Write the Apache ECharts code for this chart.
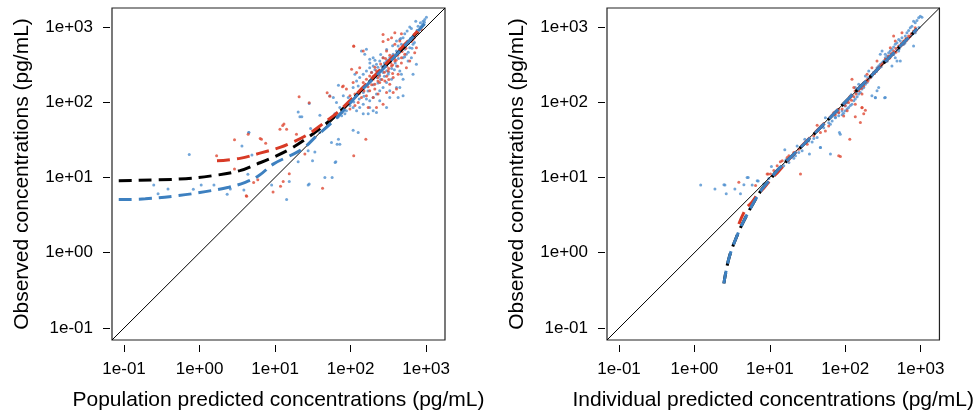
<!DOCTYPE html>
<html><head><meta charset="utf-8">
<script src="https://cdn.jsdelivr.net/npm/echarts@6/dist/echarts.min.js"></script>
<style>html,body{margin:0;padding:0;background:#fff}#c{width:977px;height:416px}</style>
</head><body><div id="c"></div>
<script>
// ---- tick labels / axis ----
const tickValues = [0.1, 1, 10, 100, 1000];
const tickLabels = ['1e-01', '1e+00', '1e+01', '1e+02', '1e+03'];
const axisRange = [0.0692, 1778];
const identityValues = [0.0692, 1778];

const xTitles = ['Population predicted concentrations (pg/mL)', 'Individual predicted concentrations (pg/mL)'];
const yTitle = 'Observed concentrations (pg/mL)';

// ---- left panel: PRED vs OBS ----
const leftBlue = [
[28.3,96],[4.5,39.5],[20.2,74],[22.6,64],[39.2,66.7],[29.5,44.6],[39.2,39.5],[55.8,29.1],[69,32.1],[66.3,27.6],
[27.4,22.5],[33.6,21.8],[31.3,16.6],[20.2,16.1],[63.7,16.1],[45.6,10],[56.9,10],[14.2,5.07],[27.4,7.94],[9.0,7.94],
[15.4,8.8],[108,42.4],[126,39.5],[0.73,20.2],[0.247,7.94],[0.282,6.04],[0.382,7.03],[0.718,9.7],[0.826,6.97],[1.05,7.94],
[1.55,7.94],[2.32,5.98],[2.55,7.03],[3.64,26.2],[4.47,39.5],[4.93,19.8],[4.36,11],[3.86,6.82],[21.3,64],[69,168],
[62.4,15.8],[28.3,8.2],[72,27.6],
[1009,1343],[959,1250],[912,1189],[840,1130],[782,1021],[729,1189],[638,951],[607,991],[560,877],[521,809],
[495,716],[448,681],[405,647],[426,556],[471,585],[521,502],[607,528],[671,585],[548,432],[495,389],
[577,352],[405,478],[366,432],[330,389],[299,352],[284,318],[269,389],[243,352],[220,318],[199,302],
[179,287],[162,259],[147,234],[132,212],[120,191],[114,234],[139,478],[154,432],[162,502],[179,370],
[199,389],[405,302],[448,259],[471,234],[495,201],[405,156],[330,141],[299,182],[269,156],[243,141],
[220,128],[199,115],[179,104],[162,110],[147,94],[132,85],[120,77],[108,85],[98,90],[88,77],
[84,70],[76,66],[68,63],[62,70],[72,85],[65,99],[59,115],[53,121],[80,121],[93,115],
[98,104],[147,134],[139,149],[126,164],[108,156],[220,212],[243,223],[269,247],[314,234],[348,201],
[671,234],[743,318],[638,389],[179,85],[199,77],[243,104],[330,115],[448,156],[426,115],[495,121],
[299,85],[220,73],[171,70],[147,70],
[190,250],[210,270],[230,290],[260,300],[280,330],[310,360],[350,400],[380,420],[420,460],[460,500],
[500,540],[540,600],[580,650],[620,700],[700,780],[760,900],[850,1000],[900,1080],[950,1150],[350,280],
[390,330],[430,380],[300,260],[250,200],[200,170],[170,140],[150,120],[130,110],[110,100],[230,180],
[280,220],[320,250],[380,270],[520,400],[580,460],[650,520],[700,620],[460,700],[360,560],[300,500],
[250,430],[210,360],[180,330]
];
const leftRed = [
[20.8,118],[48.9,133],[53,120],[13.1,51],[11.6,43.5],[19.2,37.4],[6.6,32.1],[15.4,11.2],[12.8,8.8],[11.8,7.6],
[9.4,6.4],[4.2,5.6],[42.5,7.2],[24.8,20.4],[110,19.4],[159,32.1],[2.9,31.5],[1.68,19.4],[6.35,32.9],[2.9,12.9],
[4.15,5.7],[5.2,8.55],[5.9,9.3],[4.4,37.4],[7.5,28.4],[12.6,49],[14.2,43.5],[28.3,98],[78,160],[110,550],[269,640],
[110,556],[147,478],[269,793],[314,681],[348,716],[385,834],[471,809],[521,585],[448,502],[405,432],
[385,352],[348,302],[314,259],[269,287],[243,259],[220,234],[231,212],[199,201],[189,247],[179,223],
[162,201],[147,182],[209,173],[243,182],[284,191],[330,173],[366,212],[426,234],[132,287],[120,247],
[103,273],[108,182],[80,164],[88,149],[147,149],[179,141],[209,149],[162,121],[139,115],[126,99],
[114,90],[98,81],[84,85],[76,73],[65,66],[98,121],[114,128],[199,115],[231,128],[269,94],
[299,134],[366,134],[405,149],[220,85],[171,85],[548,287],[607,352],[706,454],[743,528],[671,681],
[471,389],[521,432],[299,478],[269,389],[385,585],[448,647],[782,834],[865,922],
[200,220],[220,260],[240,230],[260,270],[280,250],[300,300],[320,280],[340,330],[360,310],[380,380],
[400,360],[420,420],[440,450],[480,470],[500,560],[540,520],[580,600],[640,640],[700,720],[300,220],
[260,200],[230,190],[190,170],[170,160],[150,140],[130,130],[330,420],[290,380],[250,320],[210,290],
[420,300],[470,330],[360,240],[320,200]
];
const leftCurveBlack = [[0.085,9.04],[0.53,9.5],[1.46,10.5],[3.42,12.3],[5.69,15.0],[9.44,18.5],[15.7,23.7],[26.1,32.9],[39.2,44.6],[58.7,62],[97.5,100],[162,170],[283,300],[448,480],[774,860]];
const leftCurveRed = [[1.70,16.6],[3.42,17.9],[6.3,21.0],[11.6,25.0],[17.3,29.6],[26.1,36.3],[39.2,48.2],[72,78],[162,175],[283,310],[448,500],[774,880]];
const leftCurveBlue = [[0.085,5.07],[0.191,5.19],[0.53,5.73],[1.19,6.47],[2.43,7.4],[4.03,8.6],[6.05,10.5],[9.44,15.0],[15.7,19.4],[23.5,24.2],[35.4,35.6],[53,50.7],[79.6,76],[132,135],[283,290],[521,560],[957,1100]];

// ---- right panel: IPRED vs OBS ----
const rightBlue = [
[942,1315],[894,1213],[849,1130],[807,1189],[991,1384],[1042,1343],[767,1021],[729,970],[693,895],[659,834],
[767,793],[849,834],[627,753],[566,716],[538,647],[512,681],[486,615],[461,585],[439,538],[417,502],
[396,478],[377,454],[358,409],[340,389],[324,352],[308,334],[292,318],[278,302],[264,287],[251,259],
[238,247],[226,223],[215,212],[205,201],[195,182],[185,173],[176,156],[167,149],[159,134],[151,128],
[144,118],[136,110],[130,104],[123,94],[117,90],[111,85],[106,81],[100,77],[95,71],[91,68],
[82,66],[74,63],[292,432],[308,478],[340,432],[417,302],[461,389],[486,352],[512,478],[278,156],
[251,115],[340,115],[226,121],[264,141],[185,223],[205,259],[151,173],[136,156],[538,352],[596,585],[807,556],
[1.21,7.94],[1.87,7.03],[2.54,7.94],[3.44,7.03],[2.64,6.04],[4.08,6.04],[5.16,9.93],[5.83,7.94],[7.01,8.97],[10.5,14.0],
[15.8,23.2],[16.4,17.1],[21.9,19.4],[23.0,26.2],[29.1,32.1],[33.5,20.4],[36.4,29.6],[46.9,24.9],[54.6,62.2],[63.6,50.7],
[83.8,39.4],[100,88.7],[82,72.4],[67,56.2],[42.4,33.8],[26.8,22.5],[24.2,21.4],[20.8,17.9],[17.9,15.8],[15.3,14.3],
[13.2,12.6],[11.3,11.1],[9.7,9.7],[8.3,8.2],[38.3,32.8],[32.9,30.5],[51.9,45.8],[60.4,53.3],[74.1,62.2],[90.8,76.2],[106,98],
[86,37.4],[251,114],[333,114],[63.7,20.4],[46.9,25],[2.46,8.0],[4.53,8.0],[5.0,10.0],[6.8,9.04],
[120,125],[140,135],[160,168],[180,178],[200,210],[220,215],[240,250],[260,255],[280,290],[300,295],
[330,345],[360,350],[400,410],[440,430],[480,500],[520,510],[560,580],[620,610],[680,700],[740,760],
[800,820],[870,900],[950,980]
];
const rightRed = [
[849,970],[807,877],[752,809],[693,753],[640,701],[596,647],[555,596],[512,556],[471,518],[439,478],
[408,440],[377,409],[340,370],[324,334],[301,312],[278,287],[251,255],[231,234],[215,212],[200,191],
[185,182],[176,164],[164,153],[151,141],[139,128],[130,118],[121,106],[111,99],[100,90],[91,81],
[82,73],[74,68],[123,201],[130,156],[167,85],[176,70],[106,77],[461,647],[396,528],[264,352],
[226,287],[195,234],[167,128],[136,94],[439,753],[566,834],
[3.88,8.6],[9.2,11.1],[13.8,16.1],[17.9,19.4],[25.5,11.1],[42.4,49.2],[86.3,19.0],[54.6,41.4],[38.3,35.6],[31.3,27.6],
[24.2,23.7],[20.8,21.4],[17.0,18.4],[14.6,16.6],[12.5,14.3],[11.3,12.3],[10.2,11.1],[70.5,72.4],[82,80.2],[95.5,65.5],
[60.4,48.2],[46.9,39.4],[82,19.4],[115,32.1],[159,53.5],[136,64],[167,84],[185,78],[6.47,7.78],[9.5,11.1],
[115,118],[135,140],[155,150],[175,180],[195,198],[215,222],[245,240],[270,280],[310,320],[350,360],
[390,385],[430,445],[470,460],[520,540],[580,590],[650,665],[720,740]
];
const rightCurveBlack = [[2.46,0.391],[2.86,0.836],[3.69,1.70],[4.67,2.82],[6.14,4.69],[7.91,7.03],[10.2,9.53],[12.5,12.3],[20,19.6],[50,49],[100,100],[300,305],[900,940]];
const rightCurveBlue = [[2.46,0.391],[2.86,0.836],[3.69,1.70],[4.67,2.82],[6.14,4.69],[7.91,7.03],[10.2,9.53],[12.5,12.3],[20,19.6],[50,49],[100,100],[300,305],[900,940]];
const rightCurveRed = [[3.88,2.4],[4.81,3.83],[5.83,4.73],[6.79,5.85],[8.34,7.24],[10.2,9.25],[13.2,12.2],[20,19.5],[50,49.5],[100,99],[300,305],[900,930]];

// ---- styles ----
const FONT = 'Liberation Sans, Arial, sans-serif';
const C_BLUE_PT = '#4f90d0', C_RED_PT = '#de4a34';
const C_BLUE_LN = '#3d80c0', C_RED_LN = '#d83a26';

function fmt(v) {
  for (let i = 0; i < tickValues.length; i++) {
    if (Math.abs(Math.log10(v) - Math.log10(tickValues[i])) < 1e-6) return tickLabels[i];
  }
  return '';
}
function xAxisFor(g, name) {
  return {
    type: 'log', logBase: 10, gridIndex: g, min: axisRange[0], max: axisRange[1],
    name: name, nameLocation: 'middle', nameGap: 45,
    nameTextStyle: { fontSize: 21, color: '#000', fontFamily: FONT },
    offset: 5,
    axisLine: { show: false },
    axisTick: { show: true, length: 7, customValues: tickValues, lineStyle: { color: '#000', width: 1 } },
    axisLabel: { customValues: tickValues, formatter: fmt, fontSize: 17, color: '#000', margin: 16, fontFamily: FONT },
    splitLine: { show: false }, minorTick: { show: false }, minorSplitLine: { show: false }
  };
}
function yAxisFor(g, name) {
  return {
    type: 'log', logBase: 10, gridIndex: g, min: axisRange[0], max: axisRange[1],
    name: name, nameLocation: 'middle', nameGap: 77, nameRotate: 90,
    nameTextStyle: { fontSize: 21, color: '#000', fontFamily: FONT },
    offset: 2,
    axisLine: { show: false },
    axisTick: { show: true, length: 7, customValues: tickValues, lineStyle: { color: '#000', width: 1 } },
    axisLabel: { customValues: tickValues, formatter: fmt, fontSize: 17, color: '#000', margin: 17, fontFamily: FONT },
    splitLine: { show: false }, minorTick: { show: false }, minorSplitLine: { show: false }
  };
}
function scatter(g, data, color) {
  return { type: 'scatter', xAxisIndex: g, yAxisIndex: g, data: data, symbol: 'circle', symbolSize: 3,
    itemStyle: { color: color }, silent: true, z: 2 };
}
function curve(g, data, color, z, offset) {
  return { type: 'line', xAxisIndex: g, yAxisIndex: g, data: data, smooth: 0.4, showSymbol: false, symbol: 'none',
    lineStyle: { color: color, width: 3, type: [13, 7], dashOffset: offset || 0, cap: 'butt' }, z: z, silent: true };
}
function identity(g) {
  return { type: 'line', xAxisIndex: g, yAxisIndex: g, data: identityValues.map(v => [v, v]), showSymbol: false, symbol: 'none',
    lineStyle: { color: '#000', width: 1 }, z: 3, silent: true };
}

const chart = echarts.init(document.getElementById('c'), null, { renderer: 'canvas' });
chart.setOption({
  animation: false,
  backgroundColor: '#fff',
  grid: [
    { left: 112, top: 8, width: 333, height: 334, show: true, borderColor: '#222', borderWidth: 1.2, containLabel: false },
    { left: 607, top: 8, width: 333, height: 334, show: true, borderColor: '#222', borderWidth: 1.2, containLabel: false }
  ],
  xAxis: [xAxisFor(0, xTitles[0]), xAxisFor(1, xTitles[1])],
  yAxis: [yAxisFor(0, yTitle), yAxisFor(1, yTitle)],
  series: [
    scatter(0, leftBlue, C_BLUE_PT), scatter(0, leftRed, C_RED_PT), identity(0),
    curve(0, leftCurveBlack, '#000', 4), curve(0, leftCurveRed, C_RED_LN, 5), curve(0, leftCurveBlue, C_BLUE_LN, 5),
    scatter(1, rightBlue, C_BLUE_PT), scatter(1, rightRed, C_RED_PT), identity(1),
    curve(1, rightCurveBlack, '#000', 4, 2), curve(1, rightCurveRed, C_RED_LN, 5), curve(1, rightCurveBlue, C_BLUE_LN, 6)
  ]
});
</script></body></html>
